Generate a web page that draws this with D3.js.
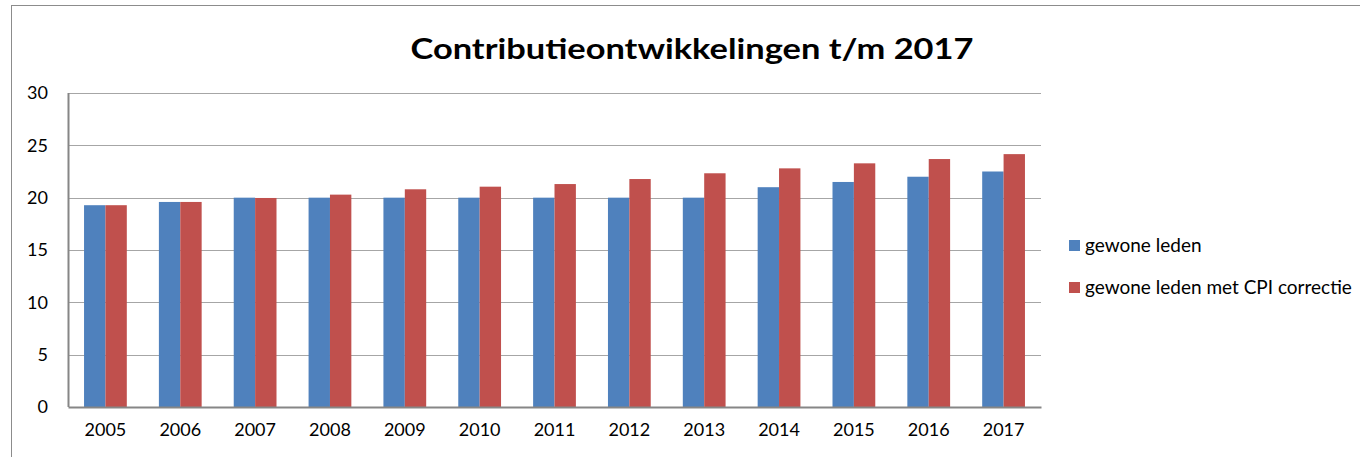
<!DOCTYPE html>
<html>
<head>
<meta charset="utf-8">
<script src="https://cdn.jsdelivr.net/npm/d3@7"></script>
<style>
  body { margin: 0; background: #fff; }
  svg { display: block; font-family: Lato, "Open Sans", sans-serif; }
</style>
</head>
<body>
<svg id="chart" width="1360" height="457"></svg>
<script>
// jaren
const years = ["2005", "2006", "2007", "2008", "2009", "2010", "2011", "2012", "2013", "2014", "2015", "2016", "2017"];
// contributie gewone leden
const gewoneLeden = [19.28, 19.59, 20, 20, 20, 20, 20, 20, 20, 21, 21.5, 22, 22.5];
// contributie met CPI correctie
const metCPI = [19.28, 19.59, 19.97, 20.29, 20.8, 21.05, 21.3, 21.78, 22.33, 22.8, 23.28, 23.69, 24.16];
const yTicks = [0, 5, 10, 15, 20, 25, 30];
const seriesNames = ["gewone leden", "gewone leden met CPI correctie"];
const colors = ["#4f81bd", "#c0504d"];

const svg = d3.select("#chart");

// buitenrand van de grafiek
svg.append("rect")
    .attr("x", 11.5).attr("y", 5.5)
    .attr("width", 1400).attr("height", 500)
    .attr("fill", "none")
    .attr("stroke", "#8c8c8c")
    .attr("stroke-width", 1);

const margin = { top: 93, left: 68 },
    width = 1041 - margin.left,
    height = 407 - margin.top;

const g = svg.append("g").attr("transform", `translate(${margin.left},${margin.top})`);

// gap width 150% zoals in Excel
const x = d3.scaleBand().domain(years).range([0, width]).paddingInner(0.4286).paddingOuter(0.2143);
const xInner = d3.scaleBand().domain([0, 1]).range([0, x.bandwidth()]);
const y = d3.scaleLinear().domain([0, 30]).range([height, 0]);

// rasterlijnen
g.append("g")
    .selectAll("line")
    .data(yTicks.filter(d => d > 0))
    .join("line")
    .attr("x1", 0).attr("x2", width)
    .attr("y1", d => Math.round(y(d)) + 0.5).attr("y2", d => Math.round(y(d)) + 0.5)
    .attr("stroke", "#a6a6a6")
    .attr("stroke-width", 1.2);

// y-as labels
g.append("g")
    .call(d3.axisLeft(y).tickValues(yTicks).tickSize(0).tickPadding(20))
    .call(a => a.select(".domain").remove())
    .selectAll("text")
    .attr("font-size", 18)
    .attr("font-family", "Lato, sans-serif")
    .attr("fill", "#000");

// staven
const data = years.map((yr, i) => ({ yr, vals: [gewoneLeden[i], metCPI[i]] }));
g.append("g")
    .selectAll("g")
    .data(data)
    .join("g")
    .attr("transform", d => `translate(${x(d.yr)},0)`)
    .selectAll("rect")
    .data(d => d.vals.map((v, k) => ({ v, k })))
    .join("rect")
    .attr("x", d => xInner(d.k))
    .attr("width", xInner.bandwidth())
    .attr("y", d => y(d.v))
    .attr("height", d => y(0) - y(d.v))
    .attr("fill", d => colors[d.k]);

// assen
g.append("line")
    .attr("x1", 0.5).attr("x2", 0.5).attr("y1", 0).attr("y2", height)
    .attr("stroke", "#868686").attr("stroke-width", 2);
g.append("g")
    .attr("transform", `translate(0,${height})`)
    .call(d3.axisBottom(x).tickSize(0).tickPadding(16))
    .call(a => a.select(".domain").attr("stroke", "#868686").attr("stroke-width", 2))
    .selectAll("text")
    .attr("font-size", 18)
    .attr("font-family", "Lato, sans-serif")
    .attr("fill", "#000");

// titel
svg.append("text")
    .attr("x", 692)
    .attr("y", 59)
    .attr("text-anchor", "middle")
    .attr("font-size", 29)
    .attr("font-weight", "bold")
    .attr("textLength", 563)
    .attr("lengthAdjust", "spacingAndGlyphs")
    .text("Contributieontwikkelingen t/m 2017");

// legenda
const legend = svg.append("g").attr("transform", "translate(1069,240)");
seriesNames.forEach((name, i) => {
    const row = legend.append("g").attr("transform", `translate(0,${i * 42})`);
    row.append("rect").attr("width", 11).attr("height", 11).attr("fill", colors[i]);
    row.append("text")
        .attr("x", 16).attr("y", 12)
        .attr("font-size", 19)
        .attr("fill", "#000")
        .text(name);
});
</script>
</body>
</html>
